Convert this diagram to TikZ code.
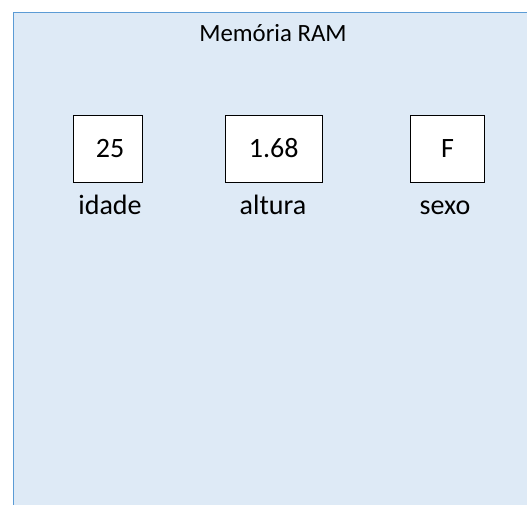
\documentclass[tikz,border=0pt]{standalone}
\usepackage{fontspec}
\setmainfont{Carlito}
\definecolor{ramfill}{HTML}{DEEAF6}
\definecolor{ramline}{HTML}{5B9BD5}
\begin{document}
\begin{tikzpicture}[x=1pt,y=-1pt,
  cell/.style={draw=black,fill=white,line width=0.8pt},
  val/.style={anchor=base,font=\fontsize{28}{32}\selectfont,inner sep=0pt},
  lbl/.style={anchor=base,font=\fontsize{28}{32}\selectfont,inner sep=0pt}]
\useasboundingbox (0,0) rectangle (527,504);
\clip (0,0) rectangle (527,504);
\draw[fill=ramfill,draw=ramline,line width=1pt] (13.5,12.5) rectangle (540,520);
\node[anchor=base,inner sep=0pt,font=\fontsize{24.8}{29}\selectfont] (title) at (273,41.5) {Memória RAM};
\draw[cell] (73.5,115.5) rectangle (142.5,182.5);
\draw[cell] (225.5,115.5) rectangle (322.5,182.5);
\draw[cell] (410.5,115.5) rectangle (484.5,182.5);
\node[val] (v1) at (110,157.5) {25};
\node[val] (v2) at (273.7,157.5) {1.68};
\node[val] (v3) at (447.5,157.5) {F};
\node[lbl] (l1) at (110,214) {idade};
\node[lbl] (l2) at (273,214) {altura};
\node[lbl] (l3) at (445,214) {sexo};
\end{tikzpicture}
\end{document}
